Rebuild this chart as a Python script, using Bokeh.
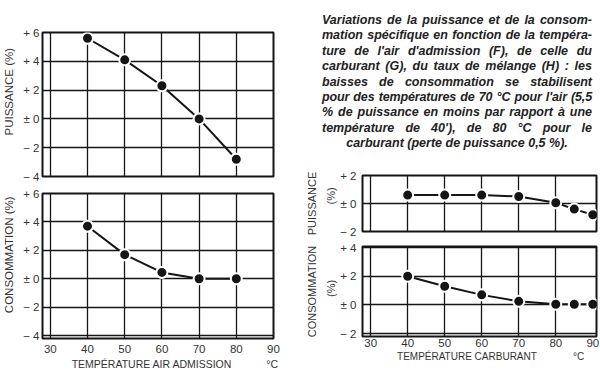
from bokeh.plotting import figure
from bokeh.models import FixedTicker, Div, Range1d, LinearAxis
from bokeh.layouts import row, column
from bokeh.embed import file_html
from bokeh.resources import INLINE

# ---- data ----
air_temp = [40, 50, 60, 70, 80]
air_power = [5.6, 4.1, 2.3, 0.0, -2.8]
air_cons = [3.7, 1.7, 0.45, 0.0, 0.0]

fuel_temp = [40, 50, 60, 70, 80, 85, 90]
fuel_power = [0.6, 0.6, 0.6, 0.5, 0.05, -0.4, -0.8]
fuel_cons = [2.0, 1.3, 0.7, 0.25, 0.05, 0.05, 0.05]

x_ticks = [30, 40, 50, 60, 70, 80, 90]
air_power_ticks = [-4, -2, 0, 2, 4, 6]
air_cons_ticks = [-4, -2, 0, 2, 4, 6]
fuel_power_ticks = [-2, 0, 2]
fuel_cons_ticks = [-2, 0, 2, 4]

caption_lines = [
    "Variations de la puissance et de la consom-",
    "mation spécifique en fonction de la tempéra-",
    "ture de l'air d'admission (F), de celle du",
    "carburant (G), du taux de mélange (H) : les",
    "baisses de consommation se stabilisent",
    "pour des températures de 70 °C pour l'air (5,5",
    "% de puissance en moins par rapport à une",
    "température de 40'), de 80 °C pour le",
    "carburant (perte de puissance 0,5 %).",
]

FONT = "Liberation Sans"
TXT = "#333333"
INK = "#151515"
NB = "\u00a0"


def sign_label(v):
    if v > 0:
        return "+ %d" % v
    if v < 0:
        return "\u2212 %d" % abs(v)
    return "\u00b1 0"


def style_label(ax, size, standoff):
    ax.axis_label_text_font = FONT
    ax.axis_label_text_font_size = size
    ax.axis_label_text_font_style = "normal"
    ax.axis_label_text_color = TXT
    ax.axis_label_standoff = standoff


def panel(width, height, xr, yr, bl, br, bt, bb, yticks, xgrid, show_x, ystand, xstand):
    p = figure(width=width, height=height, x_range=Range1d(*xr), y_range=Range1d(*yr),
               toolbar_location=None, output_backend="svg", title=None,
               min_border_left=bl, min_border_right=br, min_border_top=bt, min_border_bottom=bb)
    p.background_fill_color = "white"
    p.border_fill_color = "white"
    p.outline_line_color = INK
    p.outline_line_width = 2
    ya = p.yaxis[0]
    ya.ticker = FixedTicker(ticks=yticks)
    ya.major_label_overrides = {t: sign_label(t) for t in yticks}
    ya.axis_line_color = None
    ya.major_tick_line_color = None
    ya.minor_tick_line_color = None
    ya.major_tick_out = 0
    ya.major_tick_in = 0
    ya.major_label_standoff = ystand
    ya.major_label_text_font = FONT
    ya.major_label_text_font_size = "11.5px"
    ya.major_label_text_color = TXT
    xa = p.xaxis[0]
    xa.ticker = FixedTicker(ticks=x_ticks)
    xa.axis_line_color = None
    xa.major_tick_line_color = None
    xa.minor_tick_line_color = None
    xa.major_tick_out = 0
    xa.major_tick_in = 0
    xa.major_label_standoff = xstand
    xa.major_label_text_font = FONT
    xa.major_label_text_font_size = "11.5px"
    xa.major_label_text_color = TXT
    if not show_x:
        xa.visible = False
    p.xgrid.ticker = FixedTicker(ticks=xgrid)
    p.ygrid.ticker = FixedTicker(ticks=yticks)
    for g in (p.xgrid[0], p.ygrid[0]):
        g.grid_line_color = INK
        g.grid_line_width = 1.3
        g.grid_line_alpha = 1.0
    return p


def series(p, xs, ys):
    p.line(xs, ys, line_color=INK, line_width=2)
    p.scatter(xs, ys, size=11, fill_color=INK, line_color="white", line_width=2)


def outer_label(p, text, size, standoff):
    ax = LinearAxis(ticker=FixedTicker(ticks=[]), axis_label=text)
    ax.axis_line_color = None
    ax.major_tick_line_color = None
    ax.minor_tick_line_color = None
    ax.major_tick_out = 0
    ax.major_tick_in = 0
    ax.major_label_standoff = 0
    ax.major_label_text_font_size = "0px"
    style_label(ax, size, standoff)
    p.add_layout(ax, "left")


# ---- left: intake air temperature ----
tl = panel(298, 186, (27.9, 90), (-4, 6), 42, 25, 32, 10,
           air_power_ticks, x_ticks, False, 3, 6)
series(tl, air_temp, air_power)
tl.yaxis[0].axis_label = NB * 8 + "PUISSANCE (%)"
style_label(tl.yaxis[0], "11.5px", 5)

bl = panel(298, 186, (27.9, 90), (-4.2, 6), 42, 25, 7, 34,
           air_cons_ticks, x_ticks, True, 3, 6)
series(bl, air_temp, air_cons)
bl.yaxis[0].axis_label = NB * 7 + "CONSOMMATION (%)"
style_label(bl.yaxis[0], "11.5px", 5)
bl.xaxis[0].axis_label = NB * 12 + "TEMPÉRATURE AIR ADMISSION" + NB * 12 + "°C"
style_label(bl.xaxis[0], "10.5px", 2)

# ---- right: fuel temperature ----
tr = panel(302, 72, (27.8, 91.0), (-2, 2), 64, 4, 9, 7,
           fuel_power_ticks, x_ticks[:-1], False, 6, 2)
series(tr, fuel_temp, fuel_power)
tr.yaxis[0].axis_label = NB * 5 + "(%)"
style_label(tr.yaxis[0], "11px", 0)
outer_label(tr, "PUISSANCE", "11px", 5)

br = panel(302, 134, (27.8, 91.0), (-2.2, 4.07), 64, 4, 8, 36,
           fuel_cons_ticks, x_ticks[:-1], True, 6, 2)
series(br, fuel_temp, fuel_cons)
br.yaxis[0].axis_label = NB * 2 + "(%)"
style_label(br.yaxis[0], "11px", 0)
outer_label(br, "CONSOMMATION", "11px", 5)
br.xaxis[0].axis_label = NB * 8 + "TEMPÉRATURE CARBURANT" + NB * 13 + "°C"
style_label(br.xaxis[0], "10px", 1)

# ---- caption ----
parts = []
for i, line in enumerate(caption_lines):
    if i < len(caption_lines) - 1:
        extra = "letter-spacing:-0.15px;" if i == 5 else ""
        style = "height:15.4px;text-align:justify;text-align-last:justify;white-space:nowrap;" + extra
    else:
        style = "height:15.4px;text-align:center;white-space:nowrap;"
    parts.append('<div style="%s">%s</div>' % (style, line))
caption_html = (
    '<div style="box-sizing:border-box;width:302px;padding:13px 8px 0 24px;'
    'font-family:\'Liberation Sans\',Arial,sans-serif;font-style:italic;'
    'font-weight:bold;font-size:12.5px;line-height:15.4px;color:#222;overflow:hidden;">'
    + "".join(parts) + "</div>"
)
caption = Div(text=caption_html, width=302, height=166, margin=(0, 0, 0, 0))

layout = row(column(tl, bl), column(caption, tr, br))

with open("out.html", "w") as f:
    f.write(file_html(layout, INLINE))
